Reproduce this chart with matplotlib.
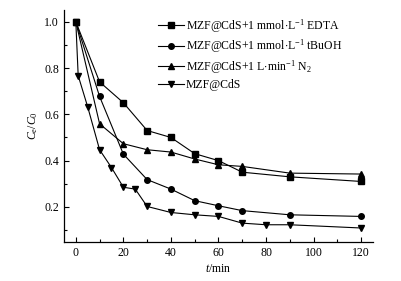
import matplotlib
matplotlib.use('Agg')
import matplotlib.pyplot as plt
from matplotlib.ticker import MultipleLocator

plt.rcParams['font.family'] = ['Liberation Serif', 'DejaVu Serif']
plt.rcParams['mathtext.fontset'] = 'custom'
plt.rcParams['mathtext.rm'] = 'Liberation Serif'
plt.rcParams['mathtext.it'] = 'Liberation Serif:italic'

# data
t_main = [0, 10, 20, 30, 40, 50, 60, 70, 90, 120]
edta = [1.0, 0.74, 0.65, 0.53, 0.50, 0.43, 0.40, 0.35, 0.33, 0.31]
tbuoh = [1.0, 0.677, 0.428, 0.318, 0.277, 0.227, 0.205, 0.184, 0.166, 0.159]
n2 = [1.0, 0.559, 0.473, 0.447, 0.437, 0.407, 0.382, 0.375, 0.346, 0.342]

t_cds = [0, 1, 5, 10, 15, 20, 25, 30, 40, 50, 60, 70, 80, 90, 120]
cds = [1.0, 0.767, 0.632, 0.447, 0.37, 0.285, 0.277, 0.202, 0.176, 0.166,
       0.159, 0.130, 0.123, 0.123, 0.109]

labels = [r'MZF@CdS+1 mmol$\cdot$L$^{-1}$ EDTA',
          r'MZF@CdS+1 mmol$\cdot$L$^{-1}$ tBuOH',
          r'MZF@CdS+1 L$\cdot$min$^{-1}$ N$_2$',
          'MZF@CdS']

fig = plt.figure(figsize=(4.02, 2.81), dpi=100)
ax = fig.add_axes([0.159, 0.140, 0.769, 0.824])

kw = dict(color='black', linewidth=0.8, markersize=4)
ax.plot(t_main, edta, marker='s', label=labels[0], **kw)
ax.plot(t_main, tbuoh, marker='o', label=labels[1], **kw)
ax.plot(t_main, n2, marker='^', label=labels[2], **kw)
ax.plot(t_cds, cds, marker='v', label=labels[3], **kw)

ax.set_xlim(-5, 125)
ax.set_ylim(0.05, 1.05)
ax.xaxis.set_major_locator(MultipleLocator(20))
ax.xaxis.set_minor_locator(MultipleLocator(10))
ax.yaxis.set_major_locator(MultipleLocator(0.2))
ax.yaxis.set_minor_locator(MultipleLocator(0.1))
ax.tick_params(which='both', direction='in', labelsize=8.5, width=0.8)
ax.tick_params(which='major', length=3.5)
ax.tick_params(which='minor', length=2)
for s in ['top', 'right']:
    ax.spines[s].set_visible(False)
for s in ['left', 'bottom']:
    ax.spines[s].set_linewidth(0.9)

ax.set_xlabel(r'$\mathit{t}$/min', fontsize=8.5, labelpad=3)
ax.set_ylabel(r'$\mathit{C}_{\mathrm{e}}/\mathit{C}_0$', fontsize=8.5, labelpad=3)

ax.legend(loc='upper left', bbox_to_anchor=(0.28, 1.0), frameon=False,
          fontsize=8.5, handlelength=2.2, handletextpad=0.2, labelspacing=0.25,
          borderaxespad=0.2)

fig.savefig('out.png', dpi=100)
